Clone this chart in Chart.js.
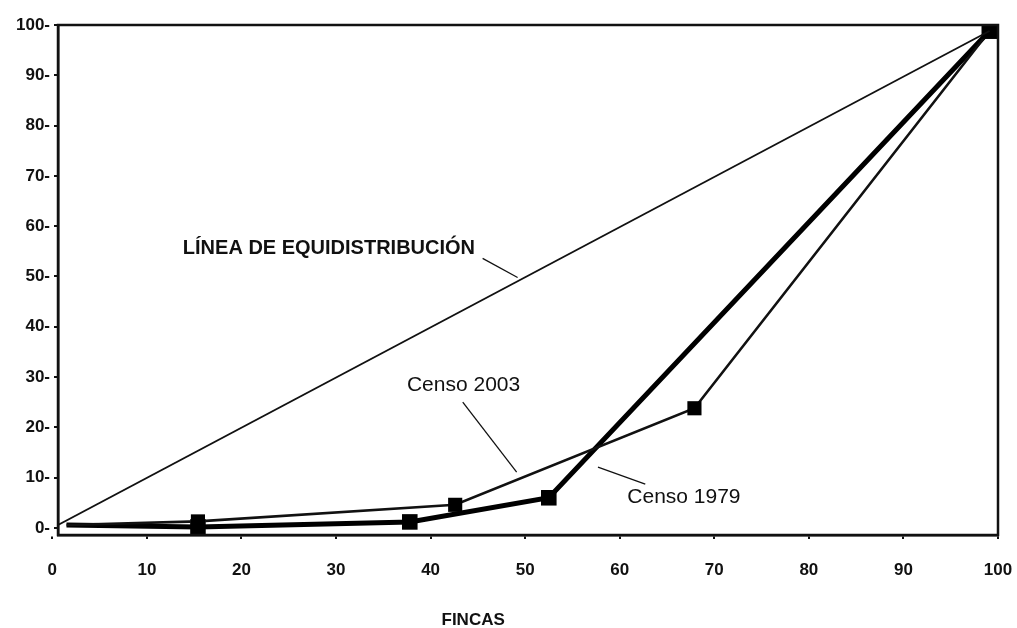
<!DOCTYPE html>
<html>
<head>
<meta charset="utf-8">
<script src="https://cdn.jsdelivr.net/npm/chart.js@4.4.1/dist/chart.umd.min.js"></script>
<style>
  html, body { margin: 0; padding: 0; background: #fff; }
  canvas { display: block; }
</style>
</head>
<body>
<canvas id="lorenz" width="1017" height="628"></canvas>
<script>
// Lorenz curves (% fincas vs % superficie)
const xTicks = [0, 10, 20, 30, 40, 50, 60, 70, 80, 90, 100];
const yTicks = [0, 10, 20, 30, 40, 50, 60, 70, 80, 90, 100];

const equiX = [0, 99.1];
const equiY = [0, 98.8];

const fincas1979 = [1.5, 15.4, 37.8, 52.5, 99.1];
const tierra1979 = [0.6, 0.2, 1.2, 6.0, 98.8];

const fincas2003 = [1.5, 15.4, 42.6, 67.9, 99.1];
const tierra2003 = [0.6, 1.3, 4.6, 23.8, 98.8];

const toPoints = (xs, ys) => xs.map((x, i) => ({ x: x, y: ys[i] }));

// labels with leader lines, in data units
const notes = [
    { text: 'LÍNEA DE EQUIDISTRIBUCIÓN', bold: true, x: 13.8, y: 55.6, from: [45.5, 53.6], to: [49.2, 49.8] },
    { text: 'Censo 2003', bold: false, x: 37.5, y: 28.4, from: [43.4, 25.0], to: [49.1, 11.1] },
    { text: 'Censo 1979', bold: false, x: 60.8, y: 6.2, from: [57.7, 12.1], to: [62.7, 8.7] }
];

const notesPlugin = {
    id: 'notes',
    afterDraw(chart) {
        const ctx = chart.ctx;
        const area = chart.chartArea;
        const xs = chart.scales.x;
        const ys = chart.scales.y;
        ctx.save();
        // box round the plot
        ctx.strokeStyle = '#111';
        ctx.lineWidth = 2.5;
        ctx.strokeRect(area.left, area.top, area.right - area.left, area.bottom - area.top);

        ctx.fillStyle = '#111';
        ctx.textBaseline = 'middle';
        ctx.textAlign = 'left';
        notes.forEach(n => {
            ctx.font = n.bold ? 'bold 20px "Liberation Sans", Arial, sans-serif' : '21px "Liberation Sans", Arial, sans-serif';
            ctx.fillText(n.text, xs.getPixelForValue(n.x), ys.getPixelForValue(n.y));
            ctx.lineWidth = 1.3;
            ctx.beginPath();
            ctx.moveTo(xs.getPixelForValue(n.from[0]), ys.getPixelForValue(n.from[1]));
            ctx.lineTo(xs.getPixelForValue(n.to[0]), ys.getPixelForValue(n.to[1]));
            ctx.stroke();
        });

        // axis title
        ctx.font = 'bold 17px "Liberation Sans", Arial, sans-serif';
        ctx.textAlign = 'center';
        ctx.fillText('FINCAS', xs.getPixelForValue(44.5), chart.height - 8);
        ctx.restore();
    }
};

new Chart(document.getElementById('lorenz'), {
    type: 'scatter',
    data: {
        datasets: [
            {
                label: 'Línea de equidistribución',
                data: toPoints(equiX, equiY),
                showLine: true,
                borderColor: '#111',
                borderWidth: 1.8,
                pointRadius: 0
            },
            {
                label: 'Censo 2003',
                data: toPoints(fincas2003, tierra2003),
                showLine: true,
                borderColor: '#111',
                borderWidth: 2.6,
                backgroundColor: '#000',
                pointStyle: 'rect',
                pointRadius: [0, 10, 10, 10, 11],
                pointBorderWidth: 0
            },
            {
                label: 'Censo 1979',
                data: toPoints(fincas1979, tierra1979),
                showLine: true,
                borderColor: '#000',
                borderWidth: 5,
                backgroundColor: '#000',
                pointStyle: 'rect',
                pointRadius: [0, 11, 11, 11, 11],
                pointBorderWidth: 0
            }
        ]
    },
    options: {
        responsive: false,
        animation: false,
        devicePixelRatio: 1,
        layout: { padding: { top: 25, right: 19, left: 0, bottom: 0 } },
        plugins: {
            legend: { display: false },
            tooltip: { enabled: false }
        },
        scales: {
            x: {
                type: 'linear',
                min: 0.6,
                max: 100,
                afterBuildTicks: axis => { axis.ticks = xTicks.map(v => ({ value: v })); },
                afterFit: axis => {
                    axis.height = 93;
                    axis.paddingLeft = 0;
                    axis.paddingRight = 0;
                },
                border: { display: true, color: '#111', width: 2.5 },
                grid: { drawOnChartArea: false, color: '#111', lineWidth: 2, tickLength: 4 },
                ticks: {
                    autoSkip: false,
                    maxRotation: 0,
                    padding: 21,
                    color: '#111',
                    font: { family: '"Liberation Sans", Arial, sans-serif', size: 17, weight: 'bold' }
                }
            },
            y: {
                type: 'linear',
                min: -1.4,
                max: 100,
                afterBuildTicks: axis => { axis.ticks = yTicks.map(v => ({ value: v })); },
                afterFit: axis => {
                    axis.width = 58;
                    axis.paddingTop = 0;
                    axis.paddingBottom = 0;
                },
                border: { display: true, color: '#111', width: 2.5 },
                grid: { drawOnChartArea: false, color: '#111', lineWidth: 2, tickLength: 4 },
                ticks: {
                    autoSkip: false,
                    padding: 4,
                    color: '#111',
                    callback: v => v + '-',
                    font: { family: '"Liberation Sans", Arial, sans-serif', size: 17, weight: 'bold' }
                }
            }
        }
    },
    plugins: [notesPlugin]
});
</script>
</body>
</html>
